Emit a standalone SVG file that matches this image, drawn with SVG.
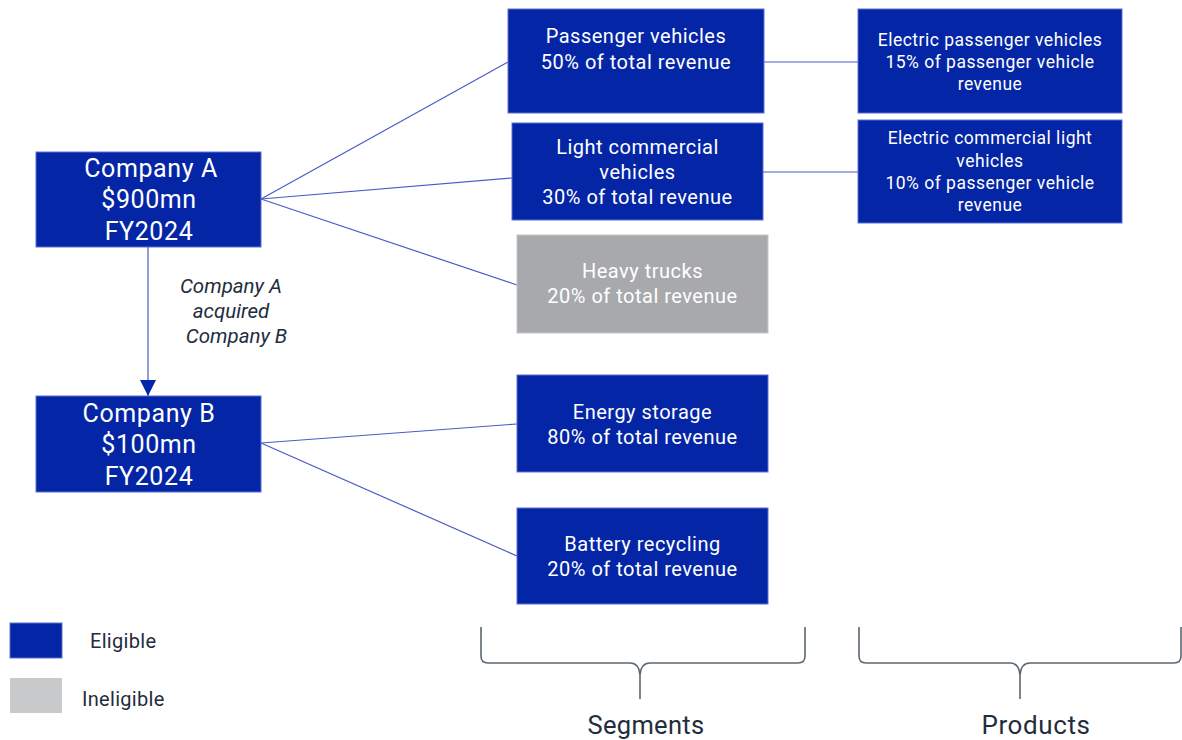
<svg xmlns="http://www.w3.org/2000/svg" width="1182" height="740" viewBox="0 0 1182 740">
  <defs>
    <style>
      .elig { fill: #0426A6; stroke: #5a6fd0; stroke-width: 1; }
      .inel { fill: #A7A9AC; stroke: #c4c6c8; stroke-width: 1; }
      .t { font-family: Roboto, "Liberation Sans", sans-serif; fill: #ffffff; text-anchor: middle; }
      .big { font-size: 25px; letter-spacing: 0.6px; }
      .seg { font-size: 20px; letter-spacing: 0.5px; }
      .prod { font-size: 17.5px; letter-spacing: 0.5px; }
      .conn { stroke: #4a5cc6; stroke-width: 1.2; fill: none; }
      .dark { font-family: Roboto, "Liberation Sans", sans-serif; fill: #1f2d3d; }
      .brace { stroke: #5b6770; stroke-width: 1.6; fill: none; }
    </style>
    <marker id="arrow" viewBox="0 0 10 10" refX="10" refY="5" markerWidth="16" markerHeight="16" markerUnits="userSpaceOnUse" orient="auto">
      <path d="M0,0 L10,5 L0,10 Z" fill="#0426A6"/>
    </marker>
  </defs>

  <rect width="1182" height="740" fill="#ffffff"/>

  <!-- connectors -->
  <g id="connectors">
    <line class="conn" x1="261" y1="199" x2="508" y2="62"/>
    <line class="conn" x1="261" y1="199" x2="512" y2="178"/>
    <line class="conn" x1="261" y1="199" x2="517" y2="285"/>
    <line class="conn" x1="261" y1="443" x2="517" y2="424"/>
    <line class="conn" x1="261" y1="443" x2="517" y2="556"/>
    <line class="conn" x1="764" y1="62" x2="858" y2="62"/>
    <line class="conn" x1="763" y1="172" x2="858" y2="172"/>
    <line class="conn" x1="148" y1="247" x2="148" y2="396" marker-end="url(#arrow)"/>
  </g>

  <!-- companies -->
  <g id="company-a">
    <rect class="elig" x="36" y="152" width="225" height="95"/>
    <text class="t big" x="151" y="177">Company A</text>
    <text class="t big" x="149" y="208">$900mn</text>
    <text class="t big" x="149" y="240">FY2024</text>
  </g>
  <g id="company-b">
    <rect class="elig" x="36" y="396" width="225" height="96"/>
    <text class="t big" x="149" y="422">Company B</text>
    <text class="t big" x="149" y="453">$100mn</text>
    <text class="t big" x="149" y="485">FY2024</text>
  </g>

  <g id="acquisition-label">
    <text class="dark" font-size="20.5" font-style="italic" text-anchor="middle">
      <tspan x="233.5" y="293">Company A</tspan>
      <tspan x="233.5" y="318">acquired</tspan>
      <tspan x="236.5" y="343">Company B</tspan>
    </text>
  </g>

  <!-- segments -->
  <g id="seg-passenger">
    <rect class="elig" x="508" y="9" width="256" height="104"/>
    <text class="t seg" x="636" y="43">Passenger vehicles</text>
    <text class="t seg" x="636" y="69">50% of total revenue</text>
  </g>
  <g id="seg-light">
    <rect class="elig" x="512" y="123" width="251" height="97"/>
    <text class="t seg" x="637.5" y="154">Light commercial</text>
    <text class="t seg" x="637.5" y="179">vehicles</text>
    <text class="t seg" x="637.5" y="204">30% of total revenue</text>
  </g>
  <g id="seg-heavy">
    <rect class="inel" x="517" y="235" width="251" height="98"/>
    <text class="t seg" x="642.5" y="278">Heavy trucks</text>
    <text class="t seg" x="642.5" y="303">20% of total revenue</text>
  </g>
  <g id="seg-energy">
    <rect class="elig" x="517" y="375" width="251" height="97"/>
    <text class="t seg" x="642.5" y="419">Energy storage</text>
    <text class="t seg" x="642.5" y="444">80% of total revenue</text>
  </g>
  <g id="seg-battery">
    <rect class="elig" x="517" y="508" width="251" height="96"/>
    <text class="t seg" x="642.5" y="551">Battery recycling</text>
    <text class="t seg" x="642.5" y="576">20% of total revenue</text>
  </g>

  <!-- products -->
  <g id="prod-electric-passenger">
    <rect class="elig" x="858" y="9" width="264" height="104"/>
    <text class="t prod" x="990" y="46">Electric passenger vehicles</text>
    <text class="t prod" x="990" y="68">15% of passenger vehicle</text>
    <text class="t prod" x="990" y="90">revenue</text>
  </g>
  <g id="prod-electric-commercial">
    <rect class="elig" x="858" y="120" width="264" height="103"/>
    <text class="t prod" x="990" y="144">Electric commercial light</text>
    <text class="t prod" x="990" y="167">vehicles</text>
    <text class="t prod" x="990" y="189">10% of passenger vehicle</text>
    <text class="t prod" x="990" y="211">revenue</text>
  </g>

  <!-- legend -->
  <g id="legend">
    <rect class="elig" x="10" y="623" width="52" height="35"/>
    <text class="dark" font-size="20" letter-spacing="0.3" x="90" y="648">Eligible</text>
    <rect x="10" y="678" width="52" height="35" fill="#C8C9CB"/>
    <text class="dark" font-size="20" letter-spacing="0.3" x="82" y="706">Ineligible</text>
  </g>

  <!-- braces -->
  <g id="brace-segments">
    <path class="brace" d="M481,627 L481,656 Q481,663 488,663 L630,663 Q639,663 640,675 L640,699 M640,675 Q641,663 650,663 L798,663 Q805,663 805,656 L805,627"/>
    <text class="dark" font-size="25.5" letter-spacing="0.3" text-anchor="middle" x="646" y="734">Segments</text>
  </g>
  <g id="brace-products">
    <path class="brace" d="M859,627 L859,656 Q859,663 866,663 L1010,663 Q1019,663 1020,675 L1020,699 M1020,675 Q1021,663 1030,663 L1174,663 Q1181,663 1181,656 L1181,627"/>
    <text class="dark" font-size="26" letter-spacing="0.6" text-anchor="middle" x="1036" y="734">Products</text>
  </g>
</svg>
